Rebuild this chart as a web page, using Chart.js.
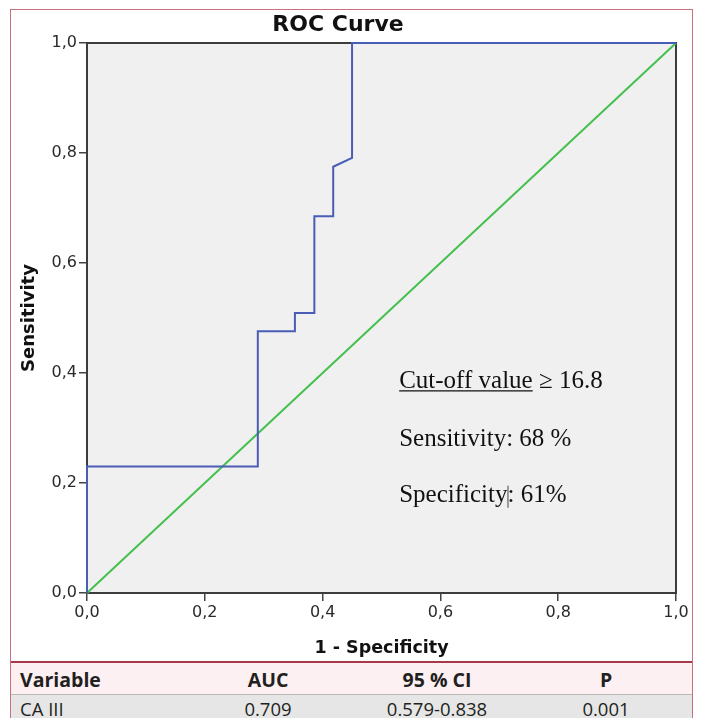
<!DOCTYPE html>
<html>
<head>
<meta charset="utf-8">
<script src="https://cdn.jsdelivr.net/npm/chart.js@4/dist/chart.umd.min.js"></script>
<style>
  html, body { margin: 0; padding: 0; background: #fff; }
  #wrap { position: relative; width: 702px; height: 718px; overflow: hidden; background: #fff; }
  #c { position: absolute; left: 0; top: 0; }
  #frame { position: absolute; left: 10px; top: 9px; width: 681px; height: 760px;
           border: 1.5px solid #c9707e; border-bottom: none; pointer-events: none; }
  #table { position: absolute; left: 11px; top: 661px; width: 681px; }
  .row { position: relative; width: 100%; font-family: "Open Sans", sans-serif; color: #231f20; }
  .head { height: 31px; background: #fdf0f2; border-top: 2px solid #a8394a; font-weight: bold; font-size: 19.5px; }
  .data { height: 40px; background: #e6e6e6; border-top: 1px solid #b9b9b9; font-size: 18.5px; }
  .cell { position: absolute; top: 0; white-space: nowrap; }
  .head .cell { line-height: 33px; }
  .data .cell { line-height: 27px; }
</style>
</head>
<body>
<div id="wrap">
  <canvas id="c" width="702" height="660"></canvas>
  <div id="table"></div>
  <div id="frame"></div>
</div>
<script>
// ---- data ----
const rocFpr = [0, 0, 0.290, 0.290, 0.353, 0.353, 0.386, 0.386, 0.418, 0.418, 0.450, 0.450, 1.0];
const rocTpr = [0, 0.230, 0.230, 0.476, 0.476, 0.509, 0.509, 0.685, 0.685, 0.775, 0.791, 1.0, 1.0];
const refX = [0, 1];
const refY = [0, 1];
const tickValues = [0, 0.2, 0.4, 0.6, 0.8, 1.0];
const tickLabels = ['0,0', '0,2', '0,4', '0,6', '0,8', '1,0'];
const chartTitle = 'ROC Curve';
const xTitle = '1 - Specificity';
const yTitle = 'Sensitivity';
const noteCutoffLabel = 'Cut-off value';
const noteCutoffValue = ' \u2265 16.8';
const noteSens = 'Sensitivity: 68 %';
const noteSpecA = 'Specificity';
const noteSpecB = ': 61%';
const tableHeaders = ['Variable', 'AUC', '95 % CI', 'P'];
const tableRow = ['CA III', '0.709', '0.579-0.838', '0.001'];

// ---- table (HTML text) ----
const colPos = [{left: 9}, {center: 257}, {center: 426}, {center: 595}];
function buildRow(cls, vals) {
  const r = document.createElement('div');
  r.className = 'row ' + cls;
  vals.forEach((v, i) => {
    const d = document.createElement('div');
    d.className = 'cell';
    d.textContent = v;
    const p = colPos[i];
    if (p.left !== undefined) { d.style.left = p.left + 'px'; }
    else { d.style.left = (p.center - 100) + 'px'; d.style.width = '200px'; d.style.textAlign = 'center'; }
    r.appendChild(d);
  });
  return r;
}
const tbl = document.getElementById('table');
tbl.appendChild(buildRow('head', tableHeaders));
tbl.appendChild(buildRow('data', tableRow));

// ---- plugins ----
const plotBg = {
  id: 'plotBg',
  beforeDraw(chart) {
    const {ctx, chartArea: a} = chart;
    ctx.save();
    ctx.fillStyle = '#f0f0f0';
    ctx.fillRect(a.left, a.top, a.right - a.left, a.bottom - a.top);
    ctx.restore();
  },
  beforeDatasetsDraw(chart) {
    const {ctx, chartArea: a} = chart;
    ctx.save();
    ctx.strokeStyle = '#3c3c3c';
    ctx.lineWidth = 2;
    ctx.strokeRect(a.left, a.top, a.right - a.left, a.bottom - a.top);
    ctx.restore();
  }
};

const notes = {
  id: 'notes',
  afterDraw(chart, args, opts) {
    const {ctx} = chart;
    const xs = chart.scales.x, ys = chart.scales.y;
    const x0 = xs.getPixelForValue(opts.x);
    const b = opts.y.map(v => ys.getPixelForValue(v));
    ctx.save();
    ctx.font = opts.size + 'px "Liberation Serif", "Times New Roman", serif';
    ctx.fillStyle = '#111';
    ctx.textBaseline = 'alphabetic';
    ctx.textAlign = 'left';
    ctx.fillText(noteCutoffLabel, x0, b[0]);
    const w1 = ctx.measureText(noteCutoffLabel).width;
    ctx.fillText(noteCutoffValue, x0 + w1, b[0]);
    ctx.strokeStyle = '#111';
    ctx.lineWidth = 1.3;
    ctx.beginPath();
    ctx.moveTo(x0, b[0] + 3); ctx.lineTo(x0 + w1, b[0] + 3);
    ctx.stroke();
    ctx.fillText(noteSens, x0, b[1]);
    ctx.fillText(noteSpecA, x0, b[2]);
    const w3 = ctx.measureText(noteSpecA).width;
    ctx.fillText(noteSpecB, x0 + w3, b[2]);
    ctx.lineWidth = 1;
    ctx.strokeStyle = '#444';
    ctx.beginPath();
    ctx.moveTo(x0 + w3 + 0.5, b[2] - 16); ctx.lineTo(x0 + w3 + 0.5, b[2] + 6);
    ctx.stroke();
    ctx.restore();
  }
};

const tickFont = {family: '"DejaVu Sans", sans-serif', size: 16};
const fmt = v => {
  const i = tickValues.findIndex(t => Math.abs(t - v) < 1e-6);
  return i >= 0 ? tickLabels[i] : '';
};

new Chart(document.getElementById('c'), {
  type: 'scatter',
  data: {
    datasets: [
      {
        label: 'ROC',
        data: rocFpr.map((x, i) => ({x, y: rocTpr[i]})),
        showLine: true,
        borderColor: '#4a5db6',
        borderWidth: 2,
        pointRadius: 0,
        tension: 0,
        clip: false,
        order: 1
      },
      {
        label: 'Reference',
        data: refX.map((x, i) => ({x, y: refY[i]})),
        showLine: true,
        borderColor: '#45c04e',
        borderWidth: 2,
        pointRadius: 0,
        tension: 0,
        clip: false,
        order: 2
      }
    ]
  },
  options: {
    responsive: false,
    animation: false,
    layout: {padding: {left: 0, right: 26, top: 0, bottom: 0}},
    plugins: {
      legend: {display: false},
      tooltip: {enabled: false},
      title: {
        display: true,
        text: chartTitle,
        color: '#111',
        font: {family: '"DejaVu Sans", sans-serif', size: 22, weight: 'bold'},
        padding: {top: 12.3, bottom: 4.3}
      },
      notes: {x: 0.53, y: [0.373, 0.268, 0.166], size: 25}
    },
    scales: {
      x: {
        type: 'linear',
        min: 0, max: 1,
        afterFit(s) { s.height = 67; },
        afterBuildTicks(s) { s.ticks = tickValues.map(v => ({value: v})); },
        ticks: {callback: fmt, font: tickFont, color: '#2a2a2a', padding: 2, maxRotation: 0},
        grid: {drawOnChartArea: false, drawTicks: true, tickLength: 8, color: '#444', lineWidth: 1.5},
        border: {display: false},
        title: {
          display: true, text: xTitle, color: '#111',
          font: {family: '"DejaVu Sans", sans-serif', size: 17.5, weight: 'bold'},
          padding: {top: 0, bottom: 1.5}
        }
      },
      y: {
        type: 'linear',
        min: 0, max: 1,
        afterFit(s) { s.width = 87; },
        afterBuildTicks(s) { s.ticks = tickValues.map(v => ({value: v})); },
        ticks: {callback: fmt, font: tickFont, color: '#2a2a2a', padding: 2},
        grid: {drawOnChartArea: false, drawTicks: true, tickLength: 8, color: '#444', lineWidth: 1.5},
        border: {display: false},
        title: {
          display: true, text: yTitle, color: '#111',
          font: {family: '"DejaVu Sans", sans-serif', size: 18, weight: 'bold'},
          padding: {top: 19, bottom: 0}
        }
      }
    }
  },
  plugins: [plotBg, notes]
});
</script>
</body>
</html>
